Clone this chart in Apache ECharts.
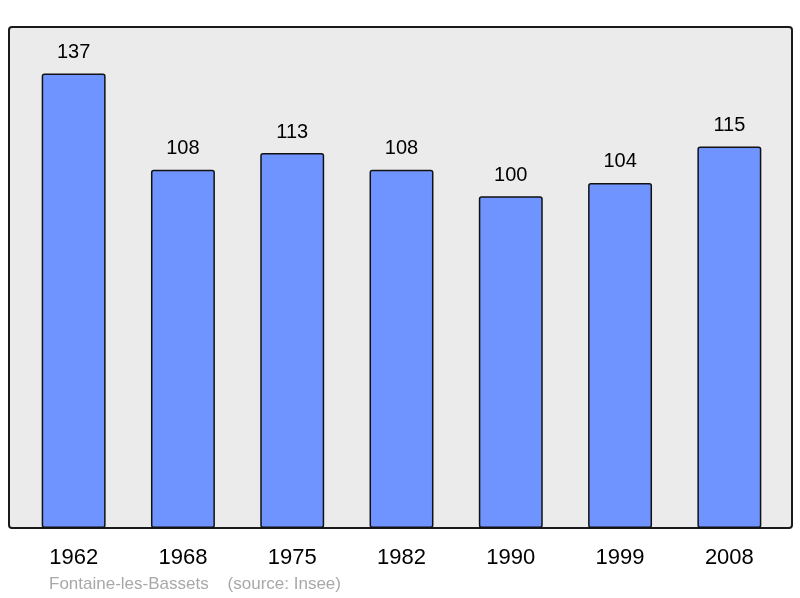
<!DOCTYPE html>
<html>
<head>
<meta charset="utf-8">
<script src="https://cdn.jsdelivr.net/npm/echarts@6/dist/echarts.min.js"></script>
<style>
  html, body { margin: 0; padding: 0; background: #fff; }
  #main { width: 800px; height: 598px; }
</style>
</head>
<body>
<div id="main"></div>
<script>
var years = ['1962', '1968', '1975', '1982', '1990', '1999', '2008'];
var population = [137, 108, 113, 108, 100, 104, 115];
var footer = 'Fontaine-les-Bassets    (source: Insee)';

var myChart = echarts.init(document.getElementById('main'));
var option = {
  backgroundColor: '#fff',
  animation: false,
  textStyle: { fontFamily: 'Liberation Sans, Arial, sans-serif' },
  graphic: [
    {
      type: 'rect',
      z: -10,
      shape: { x: 9, y: 27, width: 783, height: 501, r: 3 },
      style: { fill: '#ebebeb', stroke: '#1a1a1a', lineWidth: 2 },
      silent: true,
    },
    {
      type: 'text',
      left: 49,
      top: 576,
      style: {
        text: footer,
        fill: '#a8a8a8',
        font: '17px Liberation Sans, Arial, sans-serif',
      },
    },
  ],
  grid: { left: 19, right: 16, top: 27, bottom: 70 },
  xAxis: {
    type: 'category',
    data: years,
    axisLine: { show: false },
    axisTick: { show: false },
    axisLabel: { color: '#000', fontSize: 22, margin: 19 },
  },
  yAxis: {
    type: 'value',
    min: 0,
    max: 151,
    show: false,
    splitLine: { show: false },
  },
  series: [
    {
      type: 'bar',
      data: population,
      barWidth: '58.5%',
      itemStyle: {
        color: '#7094ff',
        borderColor: '#111',
        borderWidth: 1.5,
        borderRadius: 2,
      },
      label: {
        show: true,
        position: 'top',
        distance: 11,
        color: '#000',
        fontSize: 20,
      },
    },
  ],
};
myChart.setOption(option);
</script>
</body>
</html>
